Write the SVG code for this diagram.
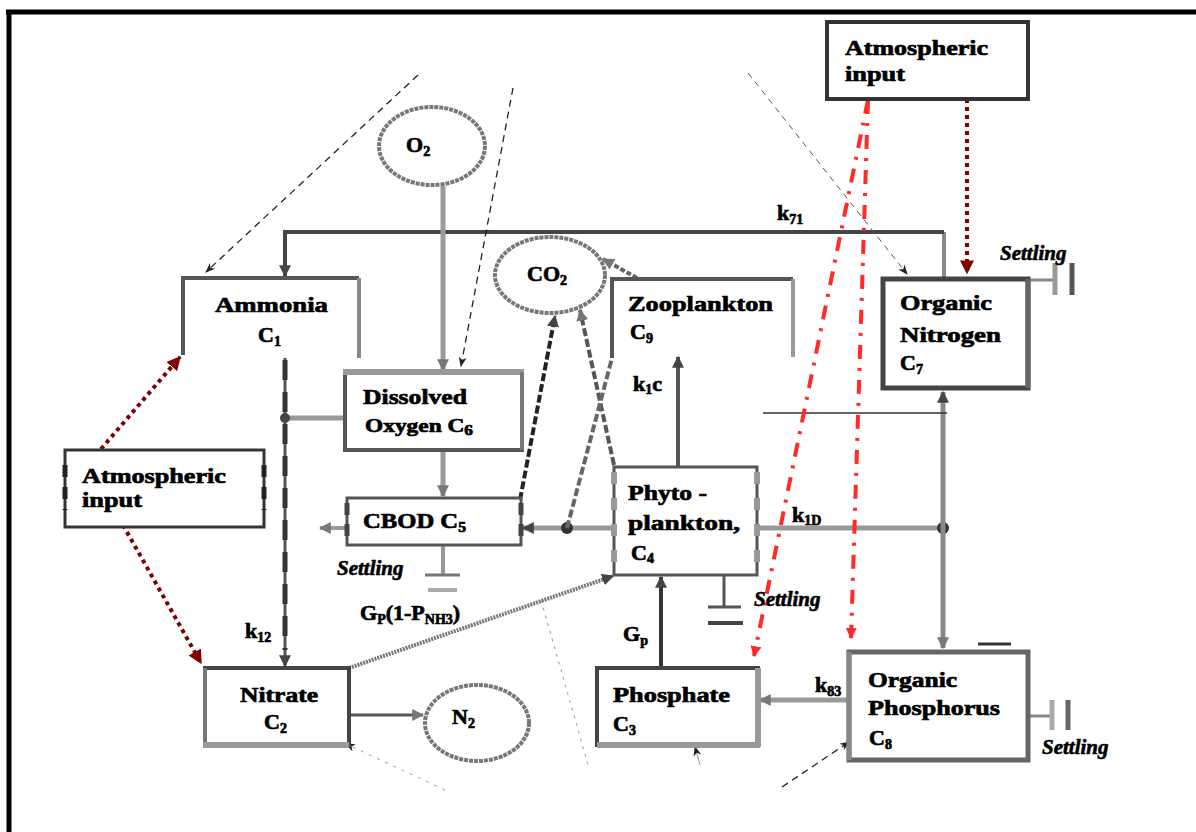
<svg xmlns="http://www.w3.org/2000/svg" width="1196" height="832" viewBox="0 0 1196 832">
<defs>
<style>
.t{font-family:"Liberation Serif","Times New Roman",serif;font-weight:bold;font-size:22px;fill:#000;stroke:#000;stroke-width:0.7}
.m{font-size:19px}
.s{font-family:"Liberation Serif","Times New Roman",serif;font-weight:bold;font-style:italic;font-size:21px;fill:#000;stroke:#000;stroke-width:0.6}
.sub{font-size:14px}
.ell{fill:#fff;stroke:#777;stroke-width:4;stroke-dasharray:4 1}
.c{fill:none;stroke-linecap:butt}
</style>
<marker id="ad" viewBox="0 0 10 10" refX="9" refY="5" markerWidth="12" markerHeight="12" markerUnits="userSpaceOnUse" orient="auto"><path d="M0,0 L10,5 L0,10 z" fill="#444"/></marker>
<marker id="al" viewBox="0 0 10 10" refX="9" refY="5" markerWidth="12" markerHeight="12" markerUnits="userSpaceOnUse" orient="auto"><path d="M0,0 L10,5 L0,10 z" fill="#777"/></marker>
<marker id="ar" viewBox="0 0 10 10" refX="9" refY="5" markerWidth="14" markerHeight="14" markerUnits="userSpaceOnUse" orient="auto"><path d="M0,0 L10,5 L0,10 z" fill="#800000"/></marker>
<marker id="arr" viewBox="0 0 10 10" refX="9" refY="5" markerWidth="11" markerHeight="11" markerUnits="userSpaceOnUse" orient="auto"><path d="M0,0 L10,5 L0,10 z" fill="#ff2a2a"/></marker>
<marker id="at" viewBox="0 0 10 10" refX="9" refY="5" markerWidth="10" markerHeight="10" markerUnits="userSpaceOnUse" orient="auto"><path d="M0,1 L10,5 L0,9 L3,5 z" fill="#222"/></marker>
</defs>

<rect width="1196" height="832" fill="#fff"/>
<!-- frame -->
<path d="M6 12 H1196 M9 10 V832" stroke="#000" stroke-width="5" fill="none"/>

<g id="connectors" class="c">
  <!-- top loop ON -> Ammonia (k71) -->
  <path d="M944 279 V232" stroke="#888" stroke-width="4" fill="none"/>
  <path d="M944 232 H285 V276" stroke="#444" stroke-width="4" fill="none" marker-end="url(#ad)"/>
  <!-- O2 -> DO -->
  <path d="M443 186 V370" stroke="#999" stroke-width="5" fill="none" marker-end="url(#al)"/>
  <!-- DO -> CBOD -->
  <path d="M443 451 V496" stroke="#999" stroke-width="5" fill="none" marker-end="url(#al)"/>
  <!-- Ammonia -> Nitrate -->
  <path d="M285 358 V666" stroke="#555" stroke-width="3" fill="none" marker-end="url(#ad)"/>
  <path d="M285 360 V650" stroke="#333" stroke-width="5" stroke-dasharray="20 12" fill="none"/>
  <path d="M285 418 H345" stroke="#999" stroke-width="5" fill="none"/>
  <circle cx="285" cy="418" r="5" fill="#444"/>
  <!-- Nitrate -> N2 -->
  <path d="M349 715 H423" stroke="#555" stroke-width="3" fill="none" marker-end="url(#al)"/>
  <!-- Nitrate -> Phyto -->
  <path d="M349 668 L613 576" stroke="#777" stroke-width="4" stroke-dasharray="2 1" fill="none" marker-end="url(#ad)"/>
  <!-- Phyto -> CBOD -->
  <path d="M614 528 H523" stroke="#999" stroke-width="5" fill="none" marker-end="url(#ad)"/>
  <circle cx="567" cy="528" r="6" fill="#333"/>
  <!-- CBOD -> left -->
  <path d="M347 528 H320" stroke="#999" stroke-width="4" fill="none" marker-end="url(#al)"/>
  <!-- CBOD settling -->
  <path d="M443 545 V575" stroke="#999" stroke-width="4" fill="none"/>
  <path d="M425 575 H460" stroke="#777" stroke-width="3" fill="none"/>
  <path d="M428 590 H457" stroke="#aaa" stroke-width="4" fill="none"/>
  <!-- CO2 arrows -->
  <path d="M520 500 L555 316" stroke="#222" stroke-width="4" stroke-dasharray="8 3" fill="none" marker-end="url(#ad)"/>
  <path d="M614 465 L580 310" stroke="#555" stroke-width="4" stroke-dasharray="8 3" fill="none" marker-end="url(#al)"/>
  <path d="M567 528 L612 358" stroke="#666" stroke-width="4" stroke-dasharray="8 3" fill="none"/>
  <path d="M637 278 L603 259" stroke="#666" stroke-width="4" stroke-dasharray="5 2" fill="none" marker-end="url(#al)"/>
  <!-- Phyto -> Zooplankton (k1c) -->
  <path d="M678 467 V357" stroke="#555" stroke-width="4" fill="none" marker-end="url(#ad)"/>
  <!-- Phyto -> right (k1D) -->
  <path d="M757 528 H943" stroke="#999" stroke-width="5" fill="none"/>
  <circle cx="943" cy="528" r="6" fill="#333"/>
  <path d="M943 528 V392" stroke="#888" stroke-width="5" fill="none" marker-end="url(#ad)"/>
  <path d="M943 528 V648" stroke="#888" stroke-width="5" fill="none" marker-end="url(#al)"/>
  <path d="M763 413 H947" stroke="#333" stroke-width="1.5" fill="none"/>
  <path d="M978 644 H1011" stroke="#333" stroke-width="3" fill="none"/>
  <!-- OP -> Phosphate -->
  <path d="M849 700 H760" stroke="#999" stroke-width="5" fill="none" marker-end="url(#al)"/>
  <!-- Phosphate -> Phyto -->
  <path d="M661 668 V577" stroke="#333" stroke-width="4" fill="none" marker-end="url(#ad)"/>
  <!-- Phyto settling -->
  <path d="M724 575 V607" stroke="#555" stroke-width="3" fill="none"/>
  <path d="M708 607 H741" stroke="#555" stroke-width="3" fill="none"/>
  <path d="M708 623 H743" stroke="#444" stroke-width="4" fill="none"/>
  <!-- ON settling -->
  <path d="M1028 280 H1055" stroke="#888" stroke-width="3" fill="none"/>
  <path d="M1055 263 V295" stroke="#999" stroke-width="5" fill="none"/>
  <path d="M1072 263 V295" stroke="#555" stroke-width="5" fill="none"/>
  <!-- OP settling -->
  <path d="M1028 716 H1052" stroke="#888" stroke-width="3" fill="none"/>
  <path d="M1052 700 V730" stroke="#aaa" stroke-width="5" fill="none"/>
  <path d="M1068 700 V730" stroke="#666" stroke-width="5" fill="none"/>
  <!-- atmospheric inputs (dark red dotted) -->
  <path d="M101 449 L180 357" stroke="#800000" stroke-width="4" stroke-dasharray="4 4" fill="none" marker-end="url(#ar)"/>
  <path d="M123 525 L201 663" stroke="#800000" stroke-width="4" stroke-dasharray="4 4" fill="none" marker-end="url(#ar)"/>
  <path d="M967 99 V273" stroke="#800000" stroke-width="4" stroke-dasharray="4 4" fill="none" marker-end="url(#ar)"/>
  <!-- red dash-dot -->
  <path d="M868 100 L754 656" stroke="#ff2a2a" stroke-width="4" stroke-dasharray="14 9 3 9" fill="none" marker-end="url(#arr)"/>
  <path d="M868 100 L851 638" stroke="#ff2a2a" stroke-width="4" stroke-dasharray="14 9 3 9" fill="none" marker-end="url(#arr)"/>
  <!-- thin dashed outline -->
  <path d="M418 75 L206 272" stroke="#222" stroke-width="1.3" stroke-dasharray="7 5" fill="none" marker-end="url(#at)"/>
  <path d="M513 88 L461 366" stroke="#222" stroke-width="1.3" stroke-dasharray="7 5" fill="none" marker-end="url(#at)"/>
  <path d="M748 73 L907 274" stroke="#555" stroke-width="1" stroke-dasharray="6 5" fill="none" marker-end="url(#at)"/>
  <path d="M782 787 L849 742" stroke="#222" stroke-width="1.3" stroke-dasharray="7 5" fill="none" marker-end="url(#at)"/>
  <path d="M445 790 L346 744" stroke="#999" stroke-width="1" stroke-dasharray="3 6" fill="none" marker-end="url(#at)"/>
  <path d="M541 600 L589 768" stroke="#999" stroke-width="1" stroke-dasharray="3 5" fill="none"/>
  <path d="M700 765 L695 747" stroke="#999" stroke-width="1" fill="none" marker-end="url(#at)"/>
</g>

<g id="o2">
  <ellipse class="ell" cx="432" cy="146" rx="53" ry="39"/>
  <text class="t" x="406" y="152">O<tspan class="sub" dy="4">2</tspan></text>
</g>

<g id="co2">
  <ellipse class="ell" cx="550" cy="275" rx="55" ry="38"/>
  <text class="t" x="527" y="281">CO<tspan class="sub" dy="4">2</tspan></text>
</g>

<g id="n2">
  <ellipse class="ell" cx="477" cy="723" rx="52" ry="38"/>
  <text class="t" x="452" y="724">N<tspan class="sub" dy="4">2</tspan></text>
</g>

<g id="ammonia">
  <path d="M183 355 V278 H359" stroke="#555" stroke-width="4" fill="none"/>
  <path d="M359 278 V358" stroke="#888" stroke-width="4" fill="none"/>
  <text class="t" x="215" y="312" textLength="113" lengthAdjust="spacingAndGlyphs">Ammonia</text>
  <text class="t" x="258" y="342">C<tspan class="sub" dy="4">1</tspan></text>
</g>

<g id="dissolved-oxygen">
  <rect x="345" y="372" width="177" height="78" fill="#fff" stroke="#555" stroke-width="4"/>
  <path d="M343 372 H524" stroke="#999" stroke-width="6"/>
  <path d="M522 372 V450" stroke="#777" stroke-width="4"/>
  <text class="t" x="363" y="404" textLength="104" lengthAdjust="spacingAndGlyphs">Dissolved</text>
  <text class="t m" x="365" y="432" textLength="108" lengthAdjust="spacingAndGlyphs">Oxygen C<tspan class="sub" dy="3">6</tspan></text>
</g>

<g id="cbod">
  <rect x="347" y="498" width="174" height="47" fill="#fff" stroke="#555" stroke-width="3"/>
  <path d="M347 503 V540 M521 503 V540" stroke="#444" stroke-width="5" stroke-dasharray="12 9"/>
  <text class="t" x="363" y="528" textLength="103" lengthAdjust="spacingAndGlyphs">CBOD C<tspan class="sub" dy="4">5</tspan></text>
</g>

<g id="nitrate">
  <rect x="205" y="668" width="144" height="77" fill="#fff" stroke="#444" stroke-width="4"/>
  <path d="M205 668 V745" stroke="#777" stroke-width="4"/>
  <path d="M203 745 H349" stroke="#999" stroke-width="6"/>
  <text class="t" x="240" y="702" textLength="78" lengthAdjust="spacingAndGlyphs">Nitrate</text>
  <text class="t" x="264" y="729">C<tspan class="sub" dy="4">2</tspan></text>
</g>

<g id="atmospheric-input-left">
  <rect x="65" y="450" width="199" height="77" fill="#fff" stroke="#333" stroke-width="3"/>
  <path d="M65 465 V510 M264 465 V510" stroke="#222" stroke-width="5" stroke-dasharray="12 10"/>
  <text class="t" x="82" y="483" textLength="144" lengthAdjust="spacingAndGlyphs">Atmospheric</text>
  <text class="t" x="82" y="507" textLength="60" lengthAdjust="spacingAndGlyphs">input</text>
</g>

<g id="atmospheric-input-top">
  <rect x="827" y="22" width="201" height="77" fill="#fff" stroke="#333" stroke-width="4"/>
  <text class="t" x="845" y="55" textLength="143" lengthAdjust="spacingAndGlyphs">Atmospheric</text>
  <text class="t" x="845" y="81" textLength="60" lengthAdjust="spacingAndGlyphs">input</text>
</g>

<g id="zooplankton">
  <path d="M612 358 V279 H793" stroke="#555" stroke-width="4" fill="none"/>
  <path d="M793 279 V357" stroke="#999" stroke-width="4" fill="none"/>
  <text class="t" x="628" y="311" textLength="145" lengthAdjust="spacingAndGlyphs">Zooplankton</text>
  <text class="t" x="630" y="339">C<tspan class="sub" dy="4">9</tspan></text>
</g>

<g id="phytoplankton">
  <rect x="614" y="467" width="143" height="108" fill="#fff" stroke="#555" stroke-width="3"/>
  <path d="M614 472 V570 M757 472 V570" stroke="#999" stroke-width="6" stroke-dasharray="12 14"/>
  <text class="t" x="628" y="500" textLength="79" lengthAdjust="spacingAndGlyphs">Phyto -</text>
  <text class="t" x="628" y="530" textLength="112" lengthAdjust="spacingAndGlyphs">plankton,</text>
  <text class="t" x="631" y="560">C<tspan class="sub" dy="3">4</tspan></text>
</g>

<g id="phosphate">
  <rect x="597" y="668" width="161" height="77" fill="#fff" stroke="#444" stroke-width="4"/>
  <path d="M758 668 V747 M597 745 H760" stroke="#999" stroke-width="6"/>
  <text class="t" x="613" y="702" textLength="117" lengthAdjust="spacingAndGlyphs">Phosphate</text>
  <text class="t" x="613" y="731">C<tspan class="sub" dy="4">3</tspan></text>
</g>

<g id="organic-nitrogen">
  <rect x="883" y="279" width="145" height="109" fill="#fff" stroke="#444" stroke-width="5"/>
  <path d="M1028 279 V388" stroke="#666" stroke-width="5"/>
  <text class="t" x="900" y="310" textLength="92" lengthAdjust="spacingAndGlyphs">Organic</text>
  <text class="t" x="900" y="342" textLength="101" lengthAdjust="spacingAndGlyphs">Nitrogen</text>
  <text class="t" x="900" y="370">C<tspan class="sub" dy="4">7</tspan></text>
</g>

<g id="organic-phosphorus">
  <rect x="849" y="652" width="179" height="108" fill="#fff" stroke="#666" stroke-width="5"/>
  <path d="M849 652 V760" stroke="#888" stroke-width="5"/>
  <text class="t" x="868" y="687" textLength="89" lengthAdjust="spacingAndGlyphs">Organic</text>
  <text class="t" x="868" y="715" textLength="132" lengthAdjust="spacingAndGlyphs">Phosphorus</text>
  <text class="t" x="869" y="745">C<tspan class="sub" dy="4">8</tspan></text>
</g>

<g id="labels">
  <text class="t" x="777" y="220">k<tspan class="sub" dy="4">71</tspan></text>
  <text class="t" x="245" y="638">k<tspan class="sub" dy="4">12</tspan></text>
  <text class="t" x="633" y="391">k<tspan class="sub" dy="3">1</tspan><tspan dy="-3">c</tspan></text>
  <text class="t" x="792" y="522">k<tspan class="sub" dy="3">1D</tspan></text>
  <text class="t" x="815" y="692">k<tspan class="sub" dy="4">83</tspan></text>
  <text class="t" x="623" y="641">G<tspan class="sub" dy="4">p</tspan></text>
  <text class="t" x="360" y="620">G<tspan class="sub" dy="4">P</tspan><tspan dy="-4">(1-P</tspan><tspan class="sub" dy="4">NH3</tspan><tspan dy="-4">)</tspan></text>
  <text class="s" x="337" y="575">Settling</text>
  <text class="s" x="754" y="606">Settling</text>
  <text class="s" x="1000" y="260">Settling</text>
  <text class="s" x="1042" y="754">Settling</text>
</g>
</svg>
